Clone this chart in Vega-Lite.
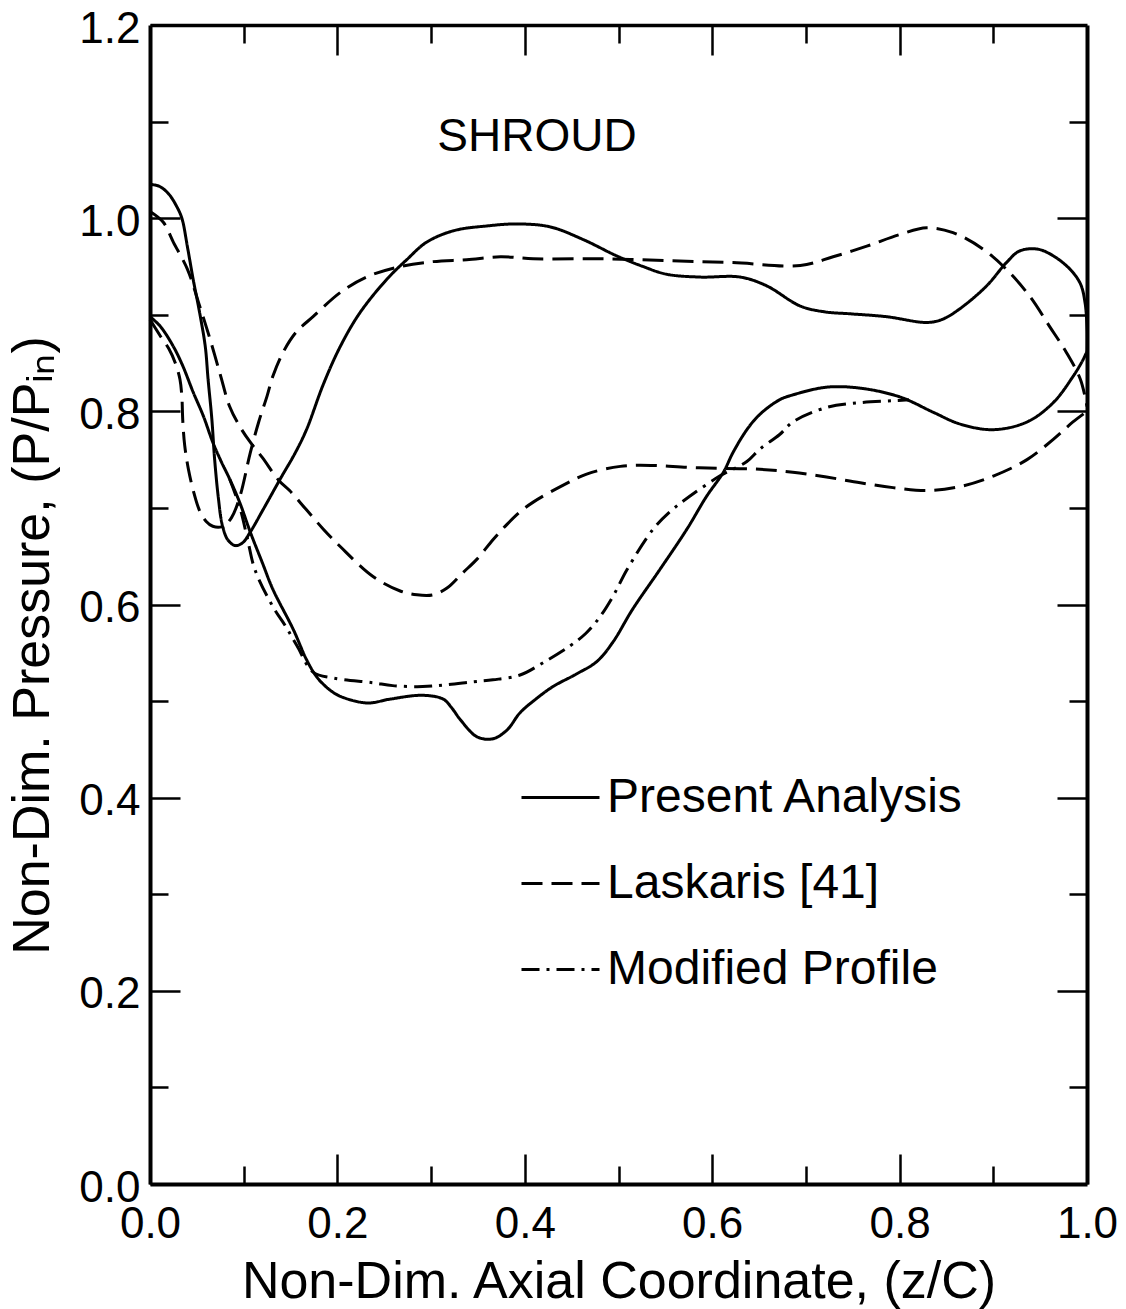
{
"$schema": "https://vega.github.io/schema/vega-lite/v6.json",
"width": 937, "height": 1159,
"autosize": {"type": "none"},
"padding": {"left": 150, "top": 25, "right": 39, "bottom": 125},
"background": "white",
"config": {"view": {"stroke": null}, "font": "Liberation Sans",
  "axis": {"grid": false, "domainColor": "black", "tickColor": "black", "labelColor": "black", "titleColor": "black", "tickWidth": 2.5}},
"datasets": {
"notes": [{"label": "SHROUD", "x": 0.413, "y": 1.084}],
"curves": [
{"s":"Present Analysis","c":"A","i":0,"x":0,"y":1.035},
{"s":"Present Analysis","c":"A","i":1,"x":0.01,"y":1.033},
{"s":"Present Analysis","c":"A","i":2,"x":0.02,"y":1.025},
{"s":"Present Analysis","c":"A","i":3,"x":0.028,"y":1.013},
{"s":"Present Analysis","c":"A","i":4,"x":0.034,"y":1.0},
{"s":"Present Analysis","c":"A","i":5,"x":0.04,"y":0.97},
{"s":"Present Analysis","c":"A","i":6,"x":0.046,"y":0.937},
{"s":"Present Analysis","c":"A","i":7,"x":0.053,"y":0.902},
{"s":"Present Analysis","c":"A","i":8,"x":0.059,"y":0.867},
{"s":"Present Analysis","c":"A","i":9,"x":0.062,"y":0.833},
{"s":"Present Analysis","c":"A","i":10,"x":0.066,"y":0.792},
{"s":"Present Analysis","c":"A","i":11,"x":0.069,"y":0.75},
{"s":"Present Analysis","c":"A","i":12,"x":0.073,"y":0.71},
{"s":"Present Analysis","c":"A","i":13,"x":0.077,"y":0.683},
{"s":"Present Analysis","c":"A","i":14,"x":0.083,"y":0.667},
{"s":"Present Analysis","c":"A","i":15,"x":0.091,"y":0.661},
{"s":"Present Analysis","c":"A","i":16,"x":0.099,"y":0.664},
{"s":"Present Analysis","c":"A","i":17,"x":0.107,"y":0.675},
{"s":"Present Analysis","c":"A","i":18,"x":0.12,"y":0.697},
{"s":"Present Analysis","c":"A","i":19,"x":0.139,"y":0.73},
{"s":"Present Analysis","c":"A","i":20,"x":0.155,"y":0.757},
{"s":"Present Analysis","c":"A","i":21,"x":0.167,"y":0.781},
{"s":"Present Analysis","c":"A","i":22,"x":0.185,"y":0.828},
{"s":"Present Analysis","c":"A","i":23,"x":0.203,"y":0.867},
{"s":"Present Analysis","c":"A","i":24,"x":0.224,"y":0.902},
{"s":"Present Analysis","c":"A","i":25,"x":0.253,"y":0.937},
{"s":"Present Analysis","c":"A","i":26,"x":0.274,"y":0.957},
{"s":"Present Analysis","c":"A","i":27,"x":0.295,"y":0.975},
{"s":"Present Analysis","c":"A","i":28,"x":0.324,"y":0.987},
{"s":"Present Analysis","c":"A","i":29,"x":0.36,"y":0.992},
{"s":"Present Analysis","c":"A","i":30,"x":0.392,"y":0.994},
{"s":"Present Analysis","c":"A","i":31,"x":0.427,"y":0.991},
{"s":"Present Analysis","c":"A","i":32,"x":0.462,"y":0.978},
{"s":"Present Analysis","c":"A","i":33,"x":0.498,"y":0.961},
{"s":"Present Analysis","c":"A","i":34,"x":0.526,"y":0.95},
{"s":"Present Analysis","c":"A","i":35,"x":0.551,"y":0.942},
{"s":"Present Analysis","c":"A","i":36,"x":0.587,"y":0.939},
{"s":"Present Analysis","c":"A","i":37,"x":0.63,"y":0.939},
{"s":"Present Analysis","c":"A","i":38,"x":0.658,"y":0.93},
{"s":"Present Analysis","c":"A","i":39,"x":0.694,"y":0.909},
{"s":"Present Analysis","c":"A","i":40,"x":0.72,"y":0.903},
{"s":"Present Analysis","c":"A","i":41,"x":0.747,"y":0.901},
{"s":"Present Analysis","c":"A","i":42,"x":0.786,"y":0.898},
{"s":"Present Analysis","c":"A","i":43,"x":0.829,"y":0.892},
{"s":"Present Analysis","c":"A","i":44,"x":0.845,"y":0.895},
{"s":"Present Analysis","c":"A","i":45,"x":0.864,"y":0.906},
{"s":"Present Analysis","c":"A","i":46,"x":0.893,"y":0.93},
{"s":"Present Analysis","c":"A","i":47,"x":0.914,"y":0.954},
{"s":"Present Analysis","c":"A","i":48,"x":0.928,"y":0.966},
{"s":"Present Analysis","c":"A","i":49,"x":0.947,"y":0.968},
{"s":"Present Analysis","c":"A","i":50,"x":0.964,"y":0.961},
{"s":"Present Analysis","c":"A","i":51,"x":0.982,"y":0.947},
{"s":"Present Analysis","c":"A","i":52,"x":0.993,"y":0.932},
{"s":"Present Analysis","c":"A","i":53,"x":0.998,"y":0.912},
{"s":"Present Analysis","c":"A","i":54,"x":1.0,"y":0.885},
{"s":"Present Analysis","c":"A","i":55,"x":1.0,"y":0.862},
{"s":"Present Analysis","c":"B","i":0,"x":0,"y":0.898},
{"s":"Present Analysis","c":"B","i":1,"x":0.011,"y":0.888},
{"s":"Present Analysis","c":"B","i":2,"x":0.025,"y":0.867},
{"s":"Present Analysis","c":"B","i":3,"x":0.035,"y":0.847},
{"s":"Present Analysis","c":"B","i":4,"x":0.046,"y":0.82},
{"s":"Present Analysis","c":"B","i":5,"x":0.057,"y":0.795},
{"s":"Present Analysis","c":"B","i":6,"x":0.067,"y":0.768},
{"s":"Present Analysis","c":"B","i":7,"x":0.076,"y":0.748},
{"s":"Present Analysis","c":"B","i":8,"x":0.085,"y":0.73},
{"s":"Present Analysis","c":"B","i":9,"x":0.096,"y":0.705},
{"s":"Present Analysis","c":"B","i":10,"x":0.107,"y":0.675},
{"s":"Present Analysis","c":"B","i":11,"x":0.12,"y":0.643},
{"s":"Present Analysis","c":"B","i":12,"x":0.131,"y":0.616},
{"s":"Present Analysis","c":"B","i":13,"x":0.153,"y":0.574},
{"s":"Present Analysis","c":"B","i":14,"x":0.167,"y":0.543},
{"s":"Present Analysis","c":"B","i":15,"x":0.178,"y":0.525},
{"s":"Present Analysis","c":"B","i":16,"x":0.19,"y":0.513},
{"s":"Present Analysis","c":"B","i":17,"x":0.203,"y":0.505},
{"s":"Present Analysis","c":"B","i":18,"x":0.232,"y":0.498},
{"s":"Present Analysis","c":"B","i":19,"x":0.256,"y":0.502},
{"s":"Present Analysis","c":"B","i":20,"x":0.291,"y":0.506},
{"s":"Present Analysis","c":"B","i":21,"x":0.313,"y":0.502},
{"s":"Present Analysis","c":"B","i":22,"x":0.322,"y":0.493},
{"s":"Present Analysis","c":"B","i":23,"x":0.331,"y":0.481},
{"s":"Present Analysis","c":"B","i":24,"x":0.349,"y":0.463},
{"s":"Present Analysis","c":"B","i":25,"x":0.366,"y":0.461},
{"s":"Present Analysis","c":"B","i":26,"x":0.381,"y":0.47},
{"s":"Present Analysis","c":"B","i":27,"x":0.395,"y":0.488},
{"s":"Present Analysis","c":"B","i":28,"x":0.413,"y":0.503},
{"s":"Present Analysis","c":"B","i":29,"x":0.43,"y":0.515},
{"s":"Present Analysis","c":"B","i":30,"x":0.455,"y":0.528},
{"s":"Present Analysis","c":"B","i":31,"x":0.477,"y":0.541},
{"s":"Present Analysis","c":"B","i":32,"x":0.494,"y":0.561},
{"s":"Present Analysis","c":"B","i":33,"x":0.515,"y":0.595},
{"s":"Present Analysis","c":"B","i":34,"x":0.544,"y":0.636},
{"s":"Present Analysis","c":"B","i":35,"x":0.573,"y":0.678},
{"s":"Present Analysis","c":"B","i":36,"x":0.594,"y":0.712},
{"s":"Present Analysis","c":"B","i":37,"x":0.612,"y":0.737},
{"s":"Present Analysis","c":"B","i":38,"x":0.622,"y":0.757},
{"s":"Present Analysis","c":"B","i":39,"x":0.637,"y":0.781},
{"s":"Present Analysis","c":"B","i":40,"x":0.651,"y":0.797},
{"s":"Present Analysis","c":"B","i":41,"x":0.672,"y":0.812},
{"s":"Present Analysis","c":"B","i":42,"x":0.686,"y":0.817},
{"s":"Present Analysis","c":"B","i":43,"x":0.722,"y":0.825},
{"s":"Present Analysis","c":"B","i":44,"x":0.758,"y":0.824},
{"s":"Present Analysis","c":"B","i":45,"x":0.8,"y":0.815},
{"s":"Present Analysis","c":"B","i":46,"x":0.836,"y":0.799},
{"s":"Present Analysis","c":"B","i":47,"x":0.864,"y":0.787},
{"s":"Present Analysis","c":"B","i":48,"x":0.9,"y":0.781},
{"s":"Present Analysis","c":"B","i":49,"x":0.936,"y":0.789},
{"s":"Present Analysis","c":"B","i":50,"x":0.964,"y":0.809},
{"s":"Present Analysis","c":"B","i":51,"x":0.985,"y":0.836},
{"s":"Present Analysis","c":"B","i":52,"x":0.995,"y":0.852},
{"s":"Present Analysis","c":"B","i":53,"x":1.0,"y":0.862},
{"s":"Laskaris [41]","c":"C","i":0,"x":0,"y":1.007},
{"s":"Laskaris [41]","c":"C","i":1,"x":0.014,"y":0.996},
{"s":"Laskaris [41]","c":"C","i":2,"x":0.025,"y":0.975},
{"s":"Laskaris [41]","c":"C","i":3,"x":0.04,"y":0.947},
{"s":"Laskaris [41]","c":"C","i":4,"x":0.053,"y":0.909},
{"s":"Laskaris [41]","c":"C","i":5,"x":0.064,"y":0.875},
{"s":"Laskaris [41]","c":"C","i":6,"x":0.075,"y":0.838},
{"s":"Laskaris [41]","c":"C","i":7,"x":0.085,"y":0.805},
{"s":"Laskaris [41]","c":"C","i":8,"x":0.096,"y":0.784},
{"s":"Laskaris [41]","c":"C","i":9,"x":0.107,"y":0.768},
{"s":"Laskaris [41]","c":"C","i":10,"x":0.12,"y":0.752},
{"s":"Laskaris [41]","c":"C","i":11,"x":0.137,"y":0.729},
{"s":"Laskaris [41]","c":"C","i":12,"x":0.149,"y":0.718},
{"s":"Laskaris [41]","c":"C","i":13,"x":0.167,"y":0.698},
{"s":"Laskaris [41]","c":"C","i":14,"x":0.185,"y":0.678},
{"s":"Laskaris [41]","c":"C","i":15,"x":0.203,"y":0.66},
{"s":"Laskaris [41]","c":"C","i":16,"x":0.238,"y":0.629},
{"s":"Laskaris [41]","c":"C","i":17,"x":0.267,"y":0.614},
{"s":"Laskaris [41]","c":"C","i":18,"x":0.285,"y":0.61},
{"s":"Laskaris [41]","c":"C","i":19,"x":0.302,"y":0.61},
{"s":"Laskaris [41]","c":"C","i":20,"x":0.317,"y":0.617},
{"s":"Laskaris [41]","c":"C","i":21,"x":0.334,"y":0.633},
{"s":"Laskaris [41]","c":"C","i":22,"x":0.349,"y":0.647},
{"s":"Laskaris [41]","c":"C","i":23,"x":0.366,"y":0.667},
{"s":"Laskaris [41]","c":"C","i":24,"x":0.381,"y":0.683},
{"s":"Laskaris [41]","c":"C","i":25,"x":0.395,"y":0.696},
{"s":"Laskaris [41]","c":"C","i":26,"x":0.409,"y":0.706},
{"s":"Laskaris [41]","c":"C","i":27,"x":0.438,"y":0.722},
{"s":"Laskaris [41]","c":"C","i":28,"x":0.466,"y":0.735},
{"s":"Laskaris [41]","c":"C","i":29,"x":0.502,"y":0.743},
{"s":"Laskaris [41]","c":"C","i":30,"x":0.537,"y":0.744},
{"s":"Laskaris [41]","c":"C","i":31,"x":0.573,"y":0.742},
{"s":"Laskaris [41]","c":"C","i":32,"x":0.608,"y":0.741},
{"s":"Laskaris [41]","c":"C","i":33,"x":0.651,"y":0.74},
{"s":"Laskaris [41]","c":"C","i":34,"x":0.686,"y":0.737},
{"s":"Laskaris [41]","c":"C","i":35,"x":0.722,"y":0.732},
{"s":"Laskaris [41]","c":"C","i":36,"x":0.758,"y":0.726},
{"s":"Laskaris [41]","c":"C","i":37,"x":0.793,"y":0.721},
{"s":"Laskaris [41]","c":"C","i":38,"x":0.829,"y":0.718},
{"s":"Laskaris [41]","c":"C","i":39,"x":0.864,"y":0.722},
{"s":"Laskaris [41]","c":"C","i":40,"x":0.9,"y":0.733},
{"s":"Laskaris [41]","c":"C","i":41,"x":0.936,"y":0.75},
{"s":"Laskaris [41]","c":"C","i":42,"x":0.964,"y":0.771},
{"s":"Laskaris [41]","c":"C","i":43,"x":0.985,"y":0.789},
{"s":"Laskaris [41]","c":"C","i":44,"x":1.0,"y":0.8},
{"s":"Laskaris [41]","c":"D","i":0,"x":0,"y":0.895},
{"s":"Laskaris [41]","c":"D","i":1,"x":0.011,"y":0.878},
{"s":"Laskaris [41]","c":"D","i":2,"x":0.02,"y":0.865},
{"s":"Laskaris [41]","c":"D","i":3,"x":0.027,"y":0.85},
{"s":"Laskaris [41]","c":"D","i":4,"x":0.032,"y":0.833},
{"s":"Laskaris [41]","c":"D","i":5,"x":0.034,"y":0.815},
{"s":"Laskaris [41]","c":"D","i":6,"x":0.035,"y":0.79},
{"s":"Laskaris [41]","c":"D","i":7,"x":0.037,"y":0.765},
{"s":"Laskaris [41]","c":"D","i":8,"x":0.041,"y":0.74},
{"s":"Laskaris [41]","c":"D","i":9,"x":0.047,"y":0.715},
{"s":"Laskaris [41]","c":"D","i":10,"x":0.053,"y":0.697},
{"s":"Laskaris [41]","c":"D","i":11,"x":0.06,"y":0.686},
{"s":"Laskaris [41]","c":"D","i":12,"x":0.067,"y":0.681},
{"s":"Laskaris [41]","c":"D","i":13,"x":0.078,"y":0.681},
{"s":"Laskaris [41]","c":"D","i":14,"x":0.087,"y":0.69},
{"s":"Laskaris [41]","c":"D","i":15,"x":0.096,"y":0.712},
{"s":"Laskaris [41]","c":"D","i":16,"x":0.107,"y":0.757},
{"s":"Laskaris [41]","c":"D","i":17,"x":0.116,"y":0.789},
{"s":"Laskaris [41]","c":"D","i":18,"x":0.125,"y":0.816},
{"s":"Laskaris [41]","c":"D","i":19,"x":0.131,"y":0.836},
{"s":"Laskaris [41]","c":"D","i":20,"x":0.142,"y":0.861},
{"s":"Laskaris [41]","c":"D","i":21,"x":0.156,"y":0.882},
{"s":"Laskaris [41]","c":"D","i":22,"x":0.174,"y":0.898},
{"s":"Laskaris [41]","c":"D","i":23,"x":0.203,"y":0.923},
{"s":"Laskaris [41]","c":"D","i":24,"x":0.231,"y":0.939},
{"s":"Laskaris [41]","c":"D","i":25,"x":0.263,"y":0.949},
{"s":"Laskaris [41]","c":"D","i":26,"x":0.302,"y":0.955},
{"s":"Laskaris [41]","c":"D","i":27,"x":0.338,"y":0.957},
{"s":"Laskaris [41]","c":"D","i":28,"x":0.374,"y":0.96},
{"s":"Laskaris [41]","c":"D","i":29,"x":0.409,"y":0.958},
{"s":"Laskaris [41]","c":"D","i":30,"x":0.48,"y":0.958},
{"s":"Laskaris [41]","c":"D","i":31,"x":0.552,"y":0.956},
{"s":"Laskaris [41]","c":"D","i":32,"x":0.622,"y":0.954},
{"s":"Laskaris [41]","c":"D","i":33,"x":0.694,"y":0.951},
{"s":"Laskaris [41]","c":"D","i":34,"x":0.729,"y":0.96},
{"s":"Laskaris [41]","c":"D","i":35,"x":0.765,"y":0.971},
{"s":"Laskaris [41]","c":"D","i":36,"x":0.8,"y":0.983},
{"s":"Laskaris [41]","c":"D","i":37,"x":0.829,"y":0.99},
{"s":"Laskaris [41]","c":"D","i":38,"x":0.857,"y":0.985},
{"s":"Laskaris [41]","c":"D","i":39,"x":0.889,"y":0.968},
{"s":"Laskaris [41]","c":"D","i":40,"x":0.914,"y":0.947},
{"s":"Laskaris [41]","c":"D","i":41,"x":0.939,"y":0.919},
{"s":"Laskaris [41]","c":"D","i":42,"x":0.96,"y":0.888},
{"s":"Laskaris [41]","c":"D","i":43,"x":0.978,"y":0.861},
{"s":"Laskaris [41]","c":"D","i":44,"x":0.993,"y":0.833},
{"s":"Laskaris [41]","c":"D","i":45,"x":1.0,"y":0.805},
{"s":"Modified Profile","c":"E","i":0,"x":0.085,"y":0.73},
{"s":"Modified Profile","c":"E","i":1,"x":0.096,"y":0.7},
{"s":"Modified Profile","c":"E","i":2,"x":0.104,"y":0.668},
{"s":"Modified Profile","c":"E","i":3,"x":0.112,"y":0.636},
{"s":"Modified Profile","c":"E","i":4,"x":0.131,"y":0.598},
{"s":"Modified Profile","c":"E","i":5,"x":0.145,"y":0.577},
{"s":"Modified Profile","c":"E","i":6,"x":0.157,"y":0.557},
{"s":"Modified Profile","c":"E","i":7,"x":0.174,"y":0.53},
{"s":"Modified Profile","c":"E","i":8,"x":0.195,"y":0.524},
{"s":"Modified Profile","c":"E","i":9,"x":0.238,"y":0.519},
{"s":"Modified Profile","c":"E","i":10,"x":0.259,"y":0.516},
{"s":"Modified Profile","c":"E","i":11,"x":0.291,"y":0.515},
{"s":"Modified Profile","c":"E","i":12,"x":0.317,"y":0.517},
{"s":"Modified Profile","c":"E","i":13,"x":0.345,"y":0.52},
{"s":"Modified Profile","c":"E","i":14,"x":0.366,"y":0.522},
{"s":"Modified Profile","c":"E","i":15,"x":0.395,"y":0.527},
{"s":"Modified Profile","c":"E","i":16,"x":0.42,"y":0.54},
{"s":"Modified Profile","c":"E","i":17,"x":0.448,"y":0.557},
{"s":"Modified Profile","c":"E","i":18,"x":0.465,"y":0.57},
{"s":"Modified Profile","c":"E","i":19,"x":0.48,"y":0.587},
{"s":"Modified Profile","c":"E","i":20,"x":0.495,"y":0.61},
{"s":"Modified Profile","c":"E","i":21,"x":0.509,"y":0.636},
{"s":"Modified Profile","c":"E","i":22,"x":0.537,"y":0.678},
{"s":"Modified Profile","c":"E","i":23,"x":0.556,"y":0.697},
{"s":"Modified Profile","c":"E","i":24,"x":0.576,"y":0.712},
{"s":"Modified Profile","c":"E","i":25,"x":0.608,"y":0.733},
{"s":"Modified Profile","c":"E","i":26,"x":0.637,"y":0.748},
{"s":"Modified Profile","c":"E","i":27,"x":0.651,"y":0.761},
{"s":"Modified Profile","c":"E","i":28,"x":0.672,"y":0.776},
{"s":"Modified Profile","c":"E","i":29,"x":0.686,"y":0.789},
{"s":"Modified Profile","c":"E","i":30,"x":0.722,"y":0.804},
{"s":"Modified Profile","c":"E","i":31,"x":0.758,"y":0.809},
{"s":"Modified Profile","c":"E","i":32,"x":0.793,"y":0.811},
{"s":"Modified Profile","c":"E","i":33,"x":0.81,"y":0.812}
]},
"layer": [
{
 "data": {"name": "curves"},
 "mark": {"type": "line", "strokeWidth": 3, "color": "black", "interpolate": "catmull-rom"},
 "encoding": {
  "x": {"field": "x", "type": "quantitative", "scale": {"domain": [0, 1], "nice": false, "zero": false},
   "axis": {"orient": "bottom", "values": [0, 0.2, 0.4, 0.6, 0.8, 1], "format": ".1f", "tickSize": -30, "domainWidth": 4,
    "labelFont": "Liberation Sans", "labelFontSize": 44, "labelPadding": 48, "labelFlush": false, "labelOverlap": false, "labelBound": false,
    "title": "Non-Dim. Axial Coordinate, (z/C)", "titleFont": "Liberation Sans", "titleFontSize": 52, "titleFontWeight": "normal", "titleBaseline": "alphabetic", "titleY": 113}},
  "y": {"field": "y", "type": "quantitative", "scale": {"domain": [0, 1.2], "nice": false, "zero": false},
   "axis": {"orient": "left", "values": [0, 0.2, 0.4, 0.6, 0.8, 1.0, 1.2], "format": ".1f", "tickSize": -30, "domainWidth": 4,
    "labelFont": "Liberation Sans", "labelFontSize": 44, "labelPadding": 40, "labelOffset": 4, "labelFlush": false, "labelOverlap": false, "labelBound": false,
    "title": "Non-Dim. Pressure, (P/Pᵢₙ)", "titleFont": "Liberation Sans", "titleFontSize": 52, "titleFontWeight": "normal", "titleBaseline": "alphabetic", "titleX": -102, "titleY": 620}},
  "detail": {"field": "c", "type": "nominal"},
  "order": {"field": "i", "type": "quantitative"},
  "strokeDash": {"field": "s", "type": "nominal",
   "scale": {"domain": ["Present Analysis", "Laskaris [41]", "Modified Profile"], "range": [[1, 0], [21, 9], [18, 7, 3, 7]]},
   "legend": {"title": null, "orient": "none", "legendX": 370, "legendY": 732, "padding": 0, "symbolType": "stroke", "symbolSize": 6084, "symbolStrokeWidth": 3, "symbolStrokeColor": "black",
    "labelFont": "Liberation Sans", "labelFontSize": 48, "labelColor": "black", "labelOffset": 6, "rowPadding": 21, "labelLimit": 0}}
 }
},
{
 "data": {"name": "notes"},
 "mark": {"type": "point", "opacity": 0},
 "encoding": {
  "x": {"field": "x", "type": "quantitative", "scale": {"domain": [0, 1], "nice": false, "zero": false},
   "axis": {"orient": "bottom", "values": [0.1, 0.3, 0.5, 0.7, 0.9], "tickSize": -18, "labels": false, "domain": false, "title": null}},
  "y": {"field": "y", "type": "quantitative", "scale": {"domain": [0, 1.2], "nice": false, "zero": false},
   "axis": {"orient": "left", "values": [0.1, 0.3, 0.5, 0.7, 0.9, 1.1], "tickSize": -18, "labels": false, "domain": false, "title": null}}
 }
},
{
 "data": {"name": "notes"},
 "mark": {"type": "point", "opacity": 0},
 "encoding": {
  "x": {"field": "x", "type": "quantitative", "scale": {"domain": [0, 1], "nice": false, "zero": false},
   "axis": {"orient": "top", "values": [0.2, 0.4, 0.6, 0.8], "tickSize": -30, "labels": false, "domainWidth": 3.5, "title": null}},
  "y": {"field": "y", "type": "quantitative", "scale": {"domain": [0, 1.2], "nice": false, "zero": false},
   "axis": {"orient": "right", "values": [0.2, 0.4, 0.6, 0.8, 1.0], "tickSize": -30, "labels": false, "domainWidth": 4, "title": null}}
 }
},
{
 "data": {"name": "notes"},
 "mark": {"type": "point", "opacity": 0},
 "encoding": {
  "x": {"field": "x", "type": "quantitative", "scale": {"domain": [0, 1], "nice": false, "zero": false},
   "axis": {"orient": "top", "values": [0.1, 0.3, 0.5, 0.7, 0.9], "tickSize": -18, "labels": false, "domain": false, "title": null}},
  "y": {"field": "y", "type": "quantitative", "scale": {"domain": [0, 1.2], "nice": false, "zero": false},
   "axis": {"orient": "right", "values": [0.1, 0.3, 0.5, 0.7, 0.9, 1.1], "tickSize": -18, "labels": false, "domain": false, "title": null}}
 }
},
{
 "data": {"name": "notes"},
 "mark": {"type": "text", "font": "Liberation Sans", "fontSize": 46, "align": "center", "baseline": "middle", "color": "black"},
 "encoding": {
  "x": {"field": "x", "type": "quantitative", "scale": {"domain": [0, 1], "nice": false, "zero": false}, "axis": null},
  "y": {"field": "y", "type": "quantitative", "scale": {"domain": [0, 1.2], "nice": false, "zero": false}, "axis": null},
  "text": {"field": "label"}
 }
}
],
"resolve": {"axis": {"x": "independent", "y": "independent"}}
}
